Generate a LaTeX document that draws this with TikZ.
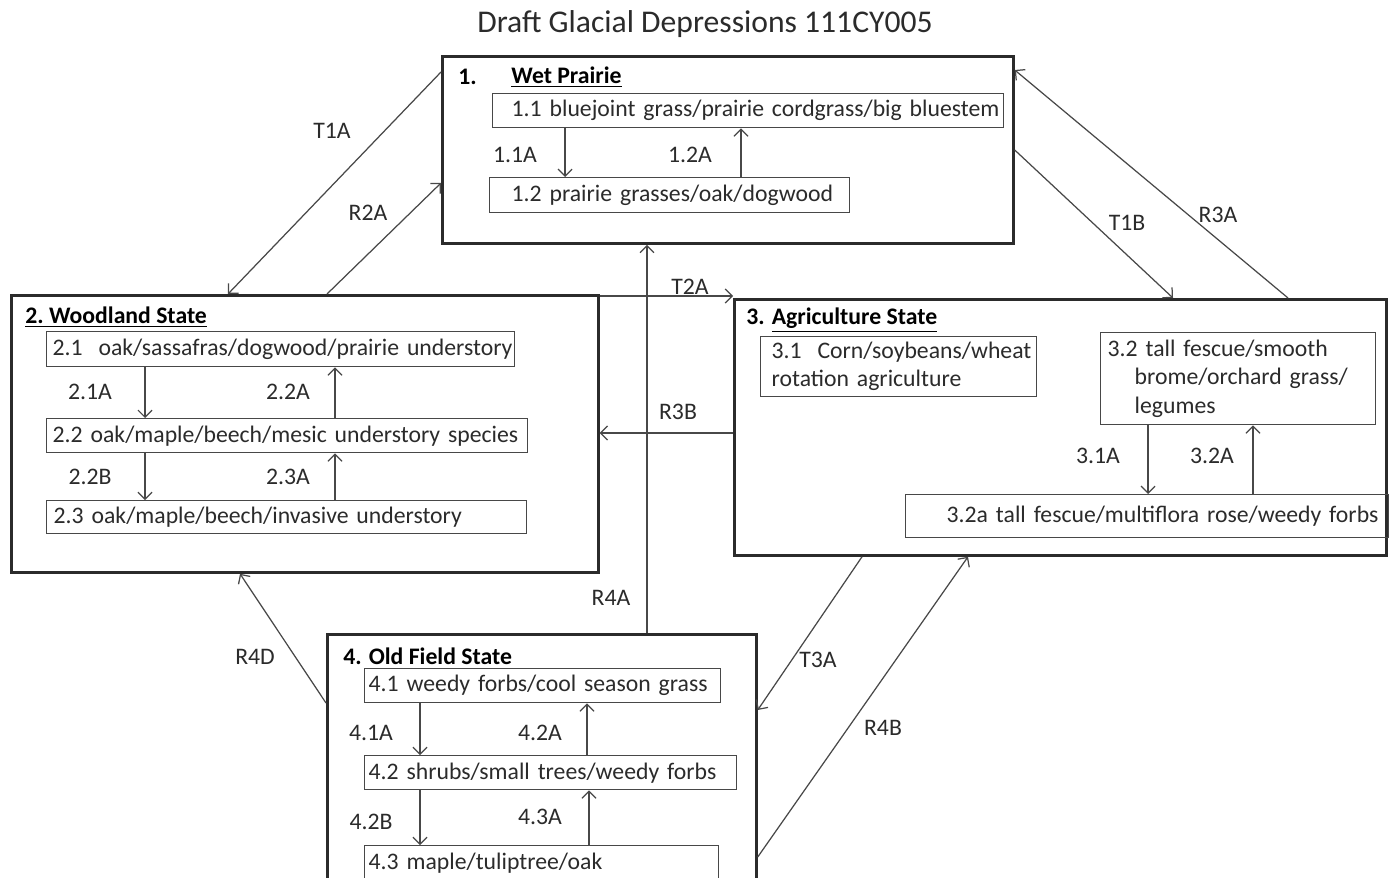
\documentclass[tikz,border=0pt]{standalone}
\usepackage{fontspec}
\setmainfont{Carlito}
\usetikzlibrary{arrows.meta}
\definecolor{inkgray}{HTML}{2B2B2B}
\definecolor{linegray}{HTML}{484848}
\tikzset{
  state/.style={draw=inkgray, line width=1.6pt, anchor=north west, inner sep=0pt},
  sub/.style={draw=linegray, line width=0.8pt, anchor=north west, align=left,
    inner xsep=0pt, inner ysep=0pt, text=inkgray},
  head/.style={anchor=west, font=\fontsize{13.5}{16}\selectfont\bfseries, text=black, inner sep=0pt},
  lab/.style={text=inkgray, inner sep=1pt},
  tr/.style={draw=linegray, line width=0.7pt, ->},
}
\begin{document}
\begin{tikzpicture}[x=0.02cm, y=-0.02cm, >={Straight Barb[length=4pt,width=8pt]},
  font=\fontsize{13.5}{16}\selectfont]
\clip (0,0) rectangle (1395,878);
\fill[white] (0,0) rectangle (1395,878);
\node[font=\fontsize{18}{21}\selectfont, text=inkgray] (title) at (705,24) {Draft Glacial Depressions 111CY005};

\node[state, minimum width=11.42cm, minimum height=3.74cm] (wet) at (441,55) {};
\node[state, minimum width=11.74cm, minimum height=5.54cm] (wood) at (10,294) {};
\node[state, minimum width=13.04cm, minimum height=5.12cm] (agri) at (733,298) {};
\node[state, minimum width=8.58cm, minimum height=5.6cm] (old) at (326,633) {};

\node[head] (h1n) at (458,77) {1.};
\node[head] (h1) at (511,77) {\underline{Wet Prairie}};
\node[head] (h2) at (25,317) {\underline{2.~Woodland State}};
\node[head] (h3) at (746,320) {3. \underline{Agriculture State}};
\node[head] (h4) at (343,656) {4. Old Field State};

\node[sub, text width=10.22cm, minimum height=0.68cm] (b11) at (492,93) {\hspace*{0.38cm}1.1 bluejoint grass/prairie cordgrass/big bluestem};
\node[sub, text width=7.20cm, minimum height=0.70cm] (b12) at (489,177) {\hspace*{0.44cm}1.2 prairie grasses/oak/dogwood};
\node[sub, text width=9.36cm, minimum height=0.70cm] (b21) at (46,331) {\hspace*{0.12cm}2.1\ \ oak/sassafras/dogwood/prairie understory};
\node[sub, text width=9.62cm, minimum height=0.68cm] (b22) at (46,418) {\hspace*{0.12cm}2.2 oak/maple/beech/mesic understory species};
\node[sub, text width=9.60cm, minimum height=0.66cm] (b23) at (46,500) {\hspace*{0.14cm}2.3 oak/maple/beech/invasive understory};
\node[sub, text width=5.52cm, minimum height=1.20cm] (b31) at (760,336) {\hspace*{0.22cm}3.1\ \ Corn/soybeans/wheat\\\hspace*{0.22cm}rotation agriculture};
\node[sub, text width=5.50cm, minimum height=1.84cm] (b32) at (1100,332) {\hspace*{0.14cm}3.2 tall fescue/smooth\\\hspace*{0.68cm}brome/orchard grass/\\\hspace*{0.68cm}legumes};
\node[sub, text width=9.66cm, minimum height=0.86cm] (b32a) at (905,494) {\hspace*{0.82cm}3.2a tall fescue/multiflora rose/weedy forbs};
\node[sub, text width=7.12cm, minimum height=0.68cm] (b41) at (364,668) {\hspace*{0.08cm}4.1 weedy forbs/cool season grass};
\node[sub, text width=7.44cm, minimum height=0.68cm] (b42) at (364,755) {\hspace*{0.08cm}4.2 shrubs/small trees/weedy forbs};
\node[sub, text width=7.08cm, minimum height=0.68cm] (b43) at (364,845) {\hspace*{0.08cm}4.3 maple/tuliptree/oak};

\draw[tr] (b11.south -| 565,0) -- (b12.north -| 565,0);
\draw[tr] (b12.north -| 741,0) -- (b11.south -| 741,0);
\draw[tr] (b21.south -| 145,0) -- (b22.north -| 145,0);
\draw[tr] (b22.north -| 335,0) -- (b21.south -| 335,0);
\draw[tr] (b22.south -| 145,0) -- (b23.north -| 145,0);
\draw[tr] (b23.north -| 335,0) -- (b22.south -| 335,0);
\draw[tr] (b32.south -| 1148,0) -- (b32a.north -| 1148,0);
\draw[tr] (b32a.north -| 1253,0) -- (b32.south -| 1253,0);
\draw[tr] (b41.south -| 420,0) -- (b42.north -| 420,0);
\draw[tr] (b42.north -| 587,0) -- (b41.south -| 587,0);
\draw[tr] (b42.south -| 420,0) -- (b43.north -| 420,0);
\draw[tr] (b43.north -| 589,0) -- (b42.south -| 589,0);

\node[lab] (l11A) at (515,155) {1.1A};
\node[lab] (l12A) at (690,155) {1.2A};
\node[lab] (l21A) at (90,392) {2.1A};
\node[lab] (l22A) at (288,392) {2.2A};
\node[lab] (l22B) at (90,477) {2.2B};
\node[lab] (l23A) at (288,477) {2.3A};
\node[lab] (l31A) at (1098,456) {3.1A};
\node[lab] (l32A) at (1212,456) {3.2A};
\node[lab] (l41A) at (371,733) {4.1A};
\node[lab] (l42A) at (540,733) {4.2A};
\node[lab] (l42B) at (371,822) {4.2B};
\node[lab] (l43A) at (540,817) {4.3A};

\draw[tr] (wet.west |- 0,72) -- (wood.north -| 228,0);
\draw[tr] (wood.north -| 327,0) -- (wet.west |- 0,183);
\draw[tr] (wet.east |- 0,150) -- (agri.north -| 1173,0);
\draw[tr] (agri.north -| 1288,0) -- (wet.east |- 0,70);
\draw[tr] (wood.east |- 0,296) -- (agri.west |- 0,296);
\draw[tr] (agri.west |- 0,433) -- (wood.east |- 0,433);
\draw[tr] (old.north -| 647,0) -- (wet.south -| 647,0);
\draw[tr] (agri.south -| 862,0) -- (old.east |- 0,710);
\draw[tr] (old.east |- 0,857) -- (agri.south -| 968,0);
\draw[tr] (old.west |- 0,703) -- (wood.south -| 240,0);

\node[lab] (lT1A) at (332,131) {T1A};
\node[lab] (lR2A) at (368,213) {R2A};
\node[lab] (lT1B) at (1127,223) {T1B};
\node[lab] (lR3A) at (1218,215) {R3A};
\node[lab] (lT2A) at (690,287) {T2A};
\node[lab] (lR3B) at (678,412) {R3B};
\node[lab] (lR4A) at (611,598) {R4A};
\node[lab] (lT3A) at (818,660) {T3A};
\node[lab] (lR4B) at (883,728) {R4B};
\node[lab] (lR4D) at (255,657) {R4D};
\end{tikzpicture}
\end{document}
